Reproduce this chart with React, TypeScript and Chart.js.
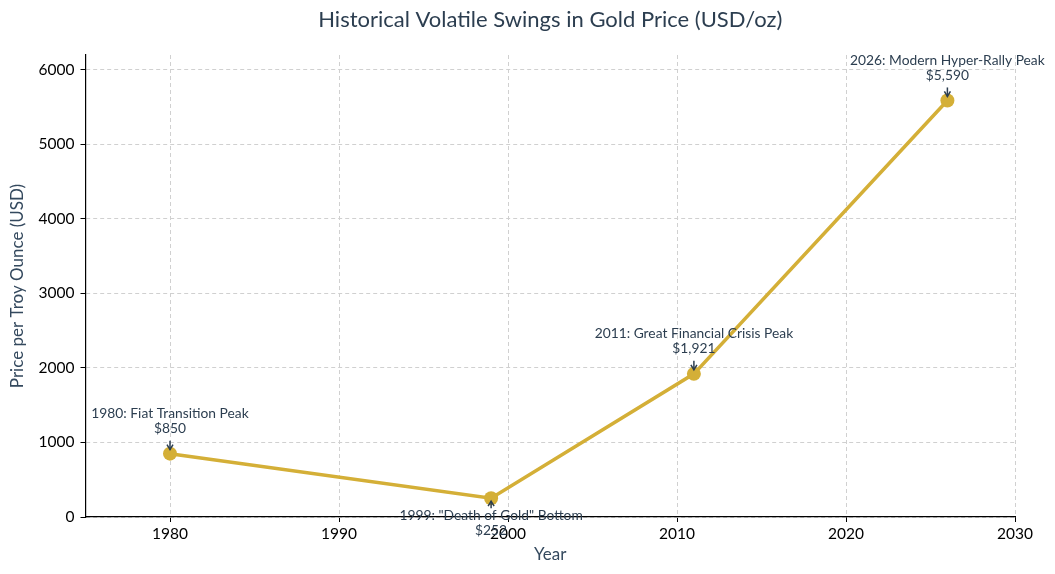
import React, { useEffect, useRef } from "react";
import { Chart, registerables } from "chart.js";

Chart.register(...registerables);

const years = [1980, 1999, 2011, 2026];
const prices = [850, 252, 1921, 5590];
const eventLabels = [
  "1980: Fiat Transition Peak",
  '1999: "Death of Gold" Bottom',
  "2011: Great Financial Crisis Peak",
  "2026: Modern Hyper-Rally Peak",
];
const labelSides = ["above", "below", "above", "above"];
const xTickValues = [1980, 1990, 2000, 2010, 2020, 2030];
const yTickValues = [0, 1000, 2000, 3000, 4000, 5000, 6000];

const chartTitle = "Historical Volatile Swings in Gold Price (USD/oz)";
const xTitle = "Year";
const yTitle = "Price per Troy Ounce (USD)";

const FONT = "Lato, 'Open Sans', sans-serif";
const GOLD = "#D4AF37";
const DARK = "#2c3e50";

const annotationPlugin = {
  id: "goldAnnotations",
  afterDatasetsDraw(chart: any) {
    const ctx = chart.ctx;
    const xs = chart.scales.x;
    const ys = chart.scales.y;
    ctx.save();
    ctx.font = `13.8px ${FONT}`;
    ctx.fillStyle = DARK;
    ctx.strokeStyle = DARK;
    ctx.textAlign = "center";
    ctx.textBaseline = "middle";
    for (let i = 0; i < years.length; i++) {
      const px = xs.getPixelForValue(years[i]);
      const py = ys.getPixelForValue(prices[i]);
      const priceText = "$" + prices[i].toLocaleString("en-US");
      let tail: number, tip: number, dir: number;
      if (labelSides[i] === "above") {
        ctx.fillText(eventLabels[i], px, py - 40);
        ctx.fillText(priceText, px, py - 25);
        tail = py - 13;
        tip = py - 4;
        dir = 1;
      } else {
        ctx.fillText(eventLabels[i], px, py + 17);
        ctx.fillText(priceText, px, py + 32);
        tail = py + 10;
        tip = py + 3;
        dir = -1;
      }
      ctx.lineWidth = 1.5;
      ctx.beginPath();
      ctx.moveTo(px, tail);
      ctx.lineTo(px, tip);
      ctx.stroke();
      ctx.beginPath();
      ctx.moveTo(px - 3, tip - dir * 5);
      ctx.lineTo(px, tip);
      ctx.lineTo(px + 3, tip - dir * 5);
      ctx.stroke();
    }
    ctx.restore();
  },
  afterDraw(chart: any) {
    const ctx = chart.ctx;
    const area = chart.chartArea;
    const cx = (area.left + area.right) / 2;
    const cy = (area.top + area.bottom) / 2;
    ctx.save();
    ctx.textAlign = "center";
    ctx.textBaseline = "middle";
    ctx.fillStyle = DARK;
    ctx.font = `22px ${FONT}`;
    ctx.fillText(chartTitle, cx, 20);
    ctx.fillStyle = "#34495e";
    ctx.font = `17px ${FONT}`;
    ctx.fillText(xTitle, cx, 555);
    ctx.translate(18, cy);
    ctx.rotate(-Math.PI / 2);
    ctx.fillText(yTitle, 0, 0);
    ctx.restore();
  },
};

export default function App() {
  const ref = useRef<HTMLCanvasElement>(null);
  useEffect(() => {
    const canvas = ref.current!;
    const chart = new Chart(canvas, {
      type: "line",
      data: {
        datasets: [
          {
            data: years.map((y, i) => ({ x: y, y: prices[i] })),
            borderColor: GOLD,
            backgroundColor: GOLD,
            borderWidth: 3.5,
            pointRadius: 7,
            pointHoverRadius: 7,
            pointBorderWidth: 0,
            pointBackgroundColor: GOLD,
            tension: 0,
          },
        ],
      },
      options: {
        animation: false,
        responsive: false,
        devicePixelRatio: 1,
        layout: { padding: { left: 0, right: 40, top: 55, bottom: 0 } },
        plugins: {
          legend: { display: false },
          title: { display: false },
          tooltip: { enabled: false },
        },
        scales: {
          x: {
            type: "linear",
            min: 1975,
            max: 2030,
            afterBuildTicks: (s: any) => {
              s.ticks = xTickValues.map((v) => ({ value: v }));
            },
            afterFit: (s: any) => {
              s.height = 57;
            },
            grid: {
              color: "#d0d0d0",
              lineWidth: 1,
              tickLength: 5,
              tickColor: "#000",
              tickBorderDash: [],
            },
            border: { display: true, color: "#000", width: 1.2, dash: [4, 3] },
            ticks: {
              color: "#000",
              font: { family: FONT, size: 15.5 },
              padding: 3,
              maxRotation: 0,
              callback: (v: any) => String(v),
            },
          },
          y: {
            type: "linear",
            min: 0,
            max: 6200,
            afterBuildTicks: (s: any) => {
              s.ticks = yTickValues.map((v) => ({ value: v }));
            },
            afterFit: (s: any) => {
              s.width = 85.5;
            },
            grid: {
              color: "#d0d0d0",
              lineWidth: 1,
              tickLength: 5,
              tickColor: "#000",
              tickBorderDash: [],
            },
            border: { display: true, color: "#000", width: 1.2, dash: [4, 3] },
            ticks: {
              color: "#000",
              font: { family: FONT, size: 15.5 },
              padding: 6,
              callback: (v: any) => String(v),
            },
          },
        },
      },
      plugins: [annotationPlugin],
    });
    return () => chart.destroy();
  }, []);
  return (
    <div style={{ position: "fixed", left: 0, top: 0, width: 1055, height: 574, background: "#fff" }}>
      <canvas ref={ref} width={1055} height={574} />
    </div>
  );
}
